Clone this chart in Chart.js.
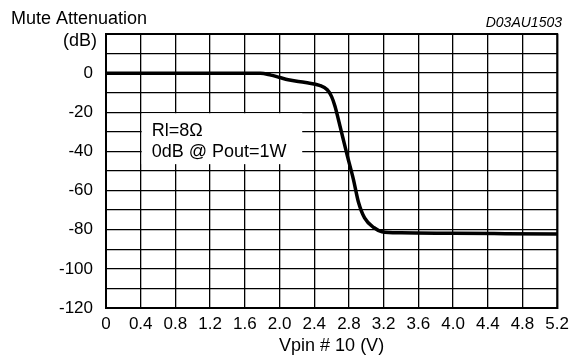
<!DOCTYPE html>
<html>
<head>
<meta charset="utf-8">
<script src="https://cdn.jsdelivr.net/npm/chart.js@4.4.0/dist/chart.umd.min.js"></script>
<style>
  html, body { margin: 0; padding: 0; background: #fff; }
  #wrap { width: 575px; height: 356px; }
</style>
</head>
<body>
<div id="wrap"><canvas id="chart"></canvas></div>
<script>
// Mute attenuation vs pin 10 voltage
const vpin = [0, 1.0, 1.6, 1.78, 1.9, 2.0, 2.1, 2.3, 2.46, 2.55, 2.6, 2.64, 2.68, 2.73, 2.78, 2.85, 2.91, 2.98, 3.09, 3.18, 3.4, 4.0, 4.6, 5.2];
const attenuation = [0, 0, 0, 0, -1, -2.2, -3.4, -4.8, -6.2, -8.5, -12, -17, -24, -33, -42, -54, -66, -74, -79, -81, -81.6, -81.8, -82, -82.2];

const xTickLabels = ['0', '0.4', '0.8', '1.2', '1.6', '2.0', '2.4', '2.8', '3.2', '3.6', '4.0', '4.4', '4.8', '5.2'];
const yTickLabels = ['-120', '-100', '-80', '-60', '-40', '-20', '0'];
const noteLines = ['Rl=8\u03A9', '0dB @ Pout=1W'];

const FONT = "'Liberation Sans', Arial, sans-serif";

const extras = {
    id: 'extras',
    beforeDatasetsDraw(chart) {
        const ctx = chart.ctx;
        const x = chart.scales.x, y = chart.scales.y;
        // white note box over the grid
        const l = x.getPixelForValue(0.4), r = x.getPixelForValue(2.25);
        const t = y.getPixelForValue(-20.5), b = y.getPixelForValue(-46.5);
        ctx.save();
        ctx.fillStyle = '#fff';
        ctx.fillRect(l + 1, t, r - l, b - t);
        ctx.fillStyle = '#000';
        ctx.font = '18px ' + FONT;
        ctx.textBaseline = 'middle';
        ctx.textAlign = 'left';
        ctx.fillText(noteLines[0], l + 11, y.getPixelForValue(-29.5));
        ctx.fillText(noteLines[1], l + 11, y.getPixelForValue(-40.5));
        ctx.restore();
    },
    afterDraw(chart) {
        const ctx = chart.ctx;
        const a = chart.chartArea;
        ctx.save();
        ctx.strokeStyle = '#000';
        ctx.lineWidth = 2;
        ctx.strokeRect(a.left, a.top, a.right - a.left, a.bottom - a.top);
        ctx.fillStyle = '#000';
        ctx.textBaseline = 'middle';
        ctx.font = '18px ' + FONT;
        ctx.textAlign = 'left';
        ctx.fillText('Mute Attenuation', 11, 19);
        ctx.textAlign = 'right';
        ctx.fillText('(dB)', 97, 41);
        ctx.textAlign = 'center';
        ctx.fillText('Vpin # 10 (V)', (a.left + a.right) / 2, 346);
        ctx.textAlign = 'right';
        ctx.font = 'italic 14px ' + FONT;
        ctx.fillText('D03AU1503', 562, 23);
        ctx.restore();
    }
};

new Chart(document.getElementById('chart'), {
    type: 'line',
    data: {
        datasets: [{
            data: vpin.map((v, i) => ({ x: v, y: attenuation[i] })),
            borderColor: '#000',
            borderWidth: 3.5,
            pointRadius: 0,
            fill: false,
            cubicInterpolationMode: 'monotone'
        }]
    },
    options: {
        responsive: true,
        maintainAspectRatio: false,
        animation: false,
        layout: { padding: { top: 34, right: 16, left: 0, bottom: 0 } },
        plugins: { legend: { display: false }, tooltip: { enabled: false } },
        scales: {
            x: {
                type: 'linear',
                min: 0,
                max: 5.2,
                afterFit(scale) { scale.height = 48; },
                grid: { color: '#000', lineWidth: 1.3, drawTicks: false },
                border: { color: '#000', width: 2 },
                ticks: {
                    stepSize: 0.4,
                    padding: 6,
                    maxRotation: 0,
                    autoSkip: false,
                    color: '#000',
                    font: { family: FONT, size: 17 },
                    callback: (v) => {
                        const i = Math.round(v / 0.4);
                        return xTickLabels[i] !== undefined ? xTickLabels[i] : '';
                    }
                }
            },
            y: {
                min: -120,
                max: 20,
                afterFit(scale) { scale.width = 106; },
                grid: { color: '#000', lineWidth: 1.3, drawTicks: false },
                border: { color: '#000', width: 2 },
                ticks: {
                    stepSize: 10,
                    padding: 13,
                    autoSkip: false,
                    color: '#000',
                    font: { family: FONT, size: 17 },
                    callback: (v) => {
                        const i = Math.round((v + 120) / 20);
                        return (v % 20 === 0 && v <= 0) ? yTickLabels[i] : '';
                    }
                }
            }
        }
    },
    plugins: [extras]
});
</script>
</body>
</html>
